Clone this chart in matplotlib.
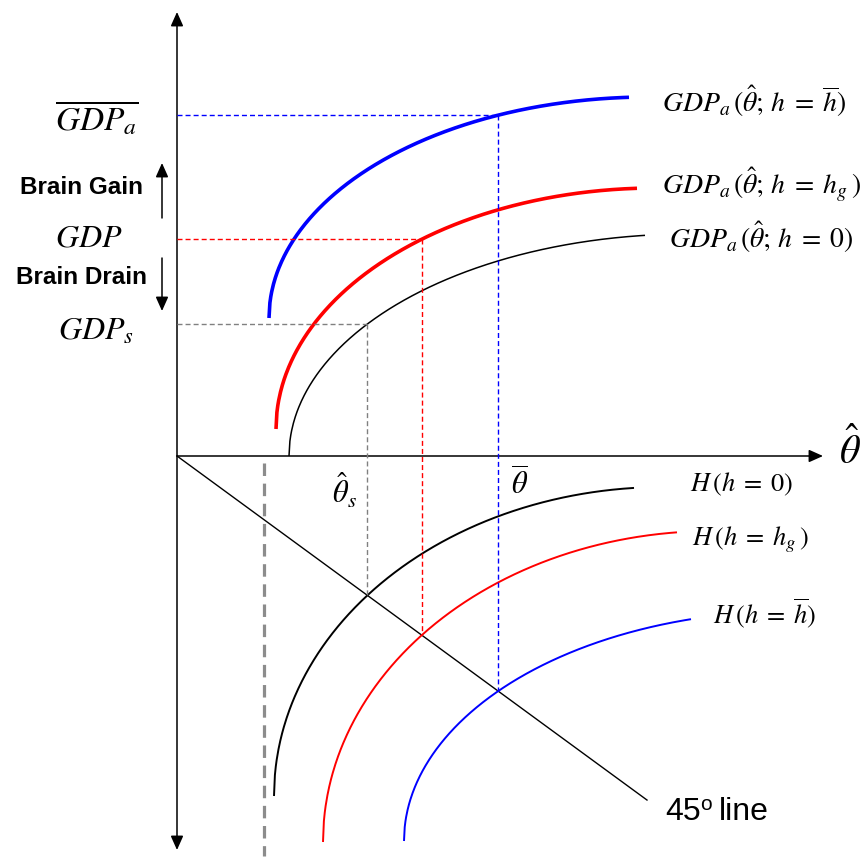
import numpy as np
import matplotlib
matplotlib.use("Agg")
import matplotlib.pyplot as plt
from matplotlib.patches import FancyArrowPatch

plt.rcParams["mathtext.fontset"] = "stix"
plt.rcParams["lines.scale_dashes"] = False

# ---- diagram data (units: origin at the axes crossing, y up) ----
# upper quadrant: GDP_a(theta_hat; h) curves for h = 0, h_g, h_bar
gdp_names = ["h0", "hg", "hbar"]
gdp_start_x = [112, 99, 92]
gdp_start_y = [0, 27, 138]
gdp_width = [400, 380, 380]
gdp_height = [222, 241, 221]
gdp_span = [356, 361, 360]

# lower quadrant: H(h) curves for h = 0, h_g, h_bar
h_start_x = [97, 146, 227]
h_start_y = [-340, -386, -385]
h_width = [390, 390, 390]
h_height = [309, 311, 230]
h_span = [360, 354, 287]

line45_slope = 0.732
line45_end = 470
theta_min = 87          # thick grey dashed threshold

colors = ["black", "red", "blue"]
gdp_lw = [1.1, 2.6, 2.6]
h_lw = [1.4, 1.4, 1.4]
guide_colors = ["#808080", "red", "blue"]


def arc(x0, y0, a, b, span, n=400):
    dx = np.linspace(0, span, n)
    t = np.arccos(1 - dx / a)
    return x0 + dx, y0 + b * np.sin(t)


fig = plt.figure(figsize=(8.65, 8.59), dpi=100)
ax = fig.add_axes([0, 0, 1, 1])
ax.set_xlim(-177, 688)
ax.set_ylim(-403, 456)
ax.axis("off")

arrow = "-|>,head_length=0.85,head_width=0.38"

# axes with arrows
ax.add_patch(FancyArrowPatch((0, -394), (0, 444), arrowstyle="<|-|>,head_length=0.85,head_width=0.38",
                             mutation_scale=10, lw=1.1, color="black", shrinkA=0, shrinkB=0))
ax.add_patch(FancyArrowPatch((0, 0), (646, 0), arrowstyle=arrow,
                             mutation_scale=10, lw=1.1, color="black", shrinkA=0, shrinkB=0))

# 45 degree line
xl = np.array([0, line45_end])
ax.plot(xl, -line45_slope * xl, color="black", lw=1.0)

# thick grey dashed threshold
ax.plot([theta_min, theta_min], [-7, -400], color="#8c8c8c", lw=2.3, dashes=(9, 5.5))

gdp_curves = []
for i in range(3):
    x, y = arc(gdp_start_x[i], gdp_start_y[i], gdp_width[i], gdp_height[i], gdp_span[i])
    gdp_curves.append((x, y))
    ax.plot(x, y, color=colors[i], lw=gdp_lw[i], solid_capstyle="butt")

h_curves = []
for i in range(3):
    x, y = arc(h_start_x[i], h_start_y[i], h_width[i], h_height[i], h_span[i])
    h_curves.append((x, y))
    ax.plot(x, y, color=colors[i], lw=h_lw[i], solid_capstyle="butt")

# equilibrium guides: H curve meets the 45 degree line, read GDP off the upper curve
for i in range(3):
    hx, hy = h_curves[i]
    diff = hy + line45_slope * hx
    j = np.where(np.diff(np.sign(diff)) != 0)[0][0]
    th = hx[j] - diff[j] * (hx[j + 1] - hx[j]) / (diff[j + 1] - diff[j])
    gx, gy = gdp_curves[i]
    level = np.interp(th, gx, gy)
    ax.plot([0, th], [level, level], color=guide_colors[i], lw=1.0, dashes=(3.6, 2.2))
    ax.plot([th, th], [level, -line45_slope * th], color=guide_colors[i], lw=1.0, dashes=(3.6, 2.2))

# brain gain / drain arrows
ax.add_patch(FancyArrowPatch((-15, 238), (-15, 293), arrowstyle=arrow,
                             mutation_scale=10, lw=1.1, color="black", shrinkA=0, shrinkB=0))
ax.add_patch(FancyArrowPatch((-15, 198), (-15, 145), arrowstyle=arrow,
                             mutation_scale=10, lw=1.1, color="black", shrinkA=0, shrinkB=0))

# left labels
ax.text(-80, 338, r"$\overline{GDP_a}$", fontsize=24, ha="center", va="center")
ax.text(-96, 268, "Brain Gain", fontsize=17.5, fontweight="bold", family="Liberation Sans",
        ha="center", va="center")
ax.text(-88, 218, r"$GDP$", fontsize=23, ha="center", va="center")
ax.text(-96, 178, "Brain Drain", fontsize=17.5, fontweight="bold", family="Liberation Sans",
        ha="center", va="center")
ax.text(-81, 125, r"$GDP_s$", fontsize=23, ha="center", va="center")

# right labels (upper)
ax.text(485, 344, r"$GDP_a\,(\hat{\theta};\,h\;=\;\overline{h})$", fontsize=20, ha="left", va="baseline")
ax.text(485, 262, r"$GDP_a\,(\hat{\theta};\,h\;=\;h_g\,)$", fontsize=20, ha="left", va="baseline")
ax.text(492, 208, r"$GDP_a\,(\hat{\theta};\,h\;=\;0)$", fontsize=20, ha="left", va="baseline")

# axis labels
ax.text(673, 5, r"$\hat{\theta}$", fontsize=29, ha="center", va="center")
ax.text(167, -34, r"$\hat{\theta}_s$", fontsize=22, ha="center", va="center")
ax.text(343, -28, r"$\overline{\theta}$", fontsize=22, ha="center", va="center")

# right labels (lower)
ax.text(513, -28, r"$H\,(h\;=\;0)$", fontsize=19, ha="left", va="center")
ax.text(515, -84, r"$H\,(h\;=\;h_g\,)$", fontsize=19, ha="left", va="center")
ax.text(536, -157, r"$H\,(h\;=\;\overline{h})$", fontsize=19, ha="left", va="center")

# "45o line" with a raised upright o
ax.text(488, -356, "45", fontsize=23, family="Liberation Sans", ha="left", va="center")
ax.text(523, -349, "o", fontsize=15, family="Liberation Sans", ha="left", va="center")
ax.text(542, -356, "line", fontsize=23, family="Liberation Sans", ha="left", va="center")

fig.savefig("out.png", dpi=100)
